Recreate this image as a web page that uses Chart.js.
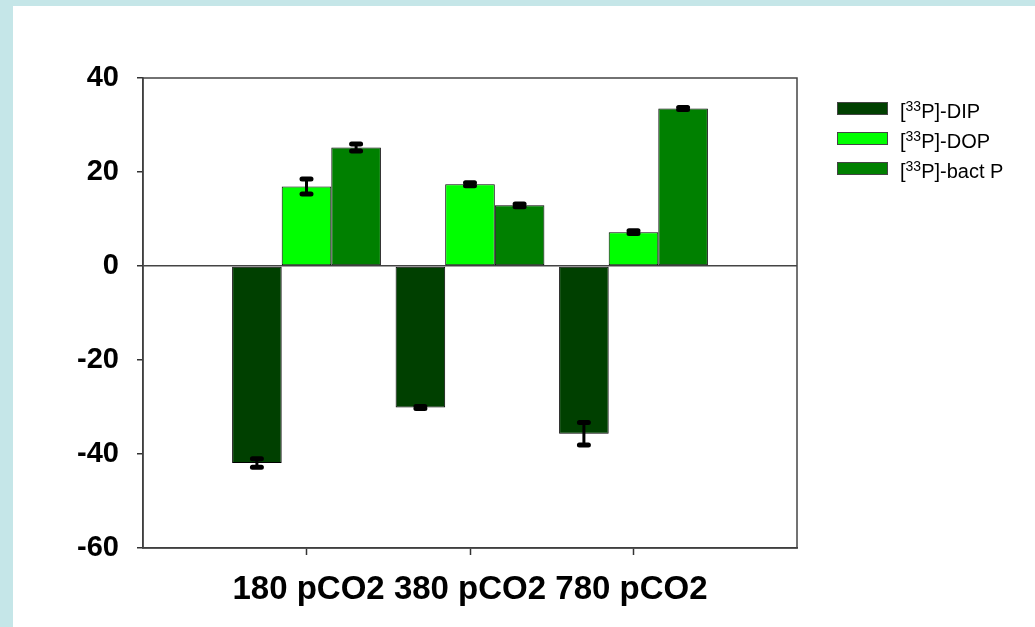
<!DOCTYPE html>
<html lang="en">
<head>
    <meta charset="UTF-8">
    <title>33P partitioning</title>
    <script src="https://cdn.jsdelivr.net/npm/chart.js"></script>
    <style>
        body { margin: 0; background: #c5e6e8; }
        .moldura {
            position: absolute; left: 13px; top: 6px;
            width: 1022px; height: 621px; background: #ffffff;
        }
    </style>
</head>
<body>
    <div class="moldura">
        <canvas id="grafico"></canvas>
    </div>

    <script>
        // categorias (com posicoes vazias nas pontas, como no original)
        const categorias = ['180 pCO2', '380 pCO2', '780 pCO2'];
        const rotulosY = [40, 20, 0, -20, -40, -60];

        // valores
        const dip = [-41.9, -30.1, -35.7];
        const dop = [16.9, 17.4, 7.2];
        const bact = [25.2, 12.9, 33.5];

        // erros (+/-)
        const erroDip = [0.9, 0.2, 2.4];
        const erroDop = [1.6, 0.3, 0.3];
        const erroBact = [0.75, 0.3, 0.2];

        const nomes = ['[³³P]-DIP', '[³³P]-DOP', '[³³P]-bact P'];
        const cores = ['#004000', '#00ff00', '#008000'];

        const fonte = "'Liberation Sans', Arial, sans-serif";
        const comPontas = arr => [null, ...arr, null];

        // barras de erro desenhadas pelas escalas do chart
        const barrasErro = {
            id: 'barrasErro',
            afterDatasetsDraw(chart) {
                const ctx = chart.ctx;
                const y = chart.scales.y;
                chart.data.datasets.forEach((ds, i) => {
                    const meta = chart.getDatasetMeta(i);
                    meta.data.forEach((bar, j) => {
                        const v = ds.data[j];
                        const e = ds.erros[j];
                        if (v == null || e == null) return;
                        const y1 = y.getPixelForValue(v + e);
                        const y2 = y.getPixelForValue(v - e);
                        ctx.save();
                        ctx.strokeStyle = '#000';
                        ctx.lineWidth = 3;
                        ctx.beginPath();
                        ctx.moveTo(bar.x, y1);
                        ctx.lineTo(bar.x, y2);
                        ctx.stroke();
                        ctx.lineWidth = 5;
                        ctx.lineCap = 'round';
                        ctx.beginPath();
                        ctx.moveTo(bar.x - 4.5, y1); ctx.lineTo(bar.x + 4.5, y1);
                        ctx.moveTo(bar.x - 4.5, y2); ctx.lineTo(bar.x + 4.5, y2);
                        ctx.stroke();
                        ctx.restore();
                    });
                });
            }
        };

        // moldura da area do grafico + legenda (com o 33 sobrescrito)
        const moldura = {
            id: 'moldura',
            afterDraw(chart) {
                const ctx = chart.ctx;
                const a = chart.chartArea;
                ctx.save();
                ctx.strokeStyle = '#444';
                ctx.lineWidth = 1.5;
                ctx.strokeRect(a.left, a.top, a.right - a.left, a.bottom - a.top);

                chart.data.datasets.forEach((ds, i) => {
                    const top = 96 + i * 30;
                    ctx.fillStyle = ds.backgroundColor;
                    ctx.fillRect(824, top, 51, 13);
                    ctx.strokeStyle = '#444';
                    ctx.lineWidth = 1;
                    ctx.strokeRect(824.5, top + 0.5, 50, 12);

                    ctx.fillStyle = '#000';
                    ctx.textBaseline = 'alphabetic';
                    ctx.textAlign = 'left';
                    const base = top + 16;
                    const partes = ds.label.split('³³');
                    let x = 887;
                    ctx.font = '20px ' + fonte;
                    ctx.fillText(partes[0], x, base);
                    x += ctx.measureText(partes[0]).width;
                    ctx.font = '14px ' + fonte;
                    ctx.fillText('33', x, base - 7);
                    x += ctx.measureText('33').width;
                    ctx.font = '20px ' + fonte;
                    ctx.fillText(partes[1], x, base);
                });
                ctx.restore();
            }
        };

        const ctxGrafico = document.getElementById('grafico').getContext('2d');

        new Chart(ctxGrafico, {
            type: 'bar',
            data: {
                labels: comPontas(categorias).map(c => c || ''),
                datasets: [
                    { label: nomes[0], data: comPontas(dip), erros: comPontas(erroDip), backgroundColor: cores[0] },
                    { label: nomes[1], data: comPontas(dop), erros: comPontas(erroDop), backgroundColor: cores[1] },
                    { label: nomes[2], data: comPontas(bact), erros: comPontas(erroBact), backgroundColor: cores[2] }
                ].map(d => Object.assign(d, { borderColor: '#000', borderWidth: 1, borderSkipped: false }))
            },
            options: {
                responsive: true,
                maintainAspectRatio: false,
                animation: false,
                categoryPercentage: 0.91,
                barPercentage: 1.0,
                layout: { padding: { left: 0, top: 72, right: 238, bottom: 0 } },
                plugins: {
                    legend: { display: false },
                    tooltip: { enabled: false }
                },
                scales: {
                    x: {
                        offset: false,
                        afterFit: s => { s.height = 79; },
                        grid: {
                            offset: false,
                            drawOnChartArea: false,
                            tickLength: 7,
                            tickWidth: 1.5,
                            tickColor: c => (c.index >= 1 && c.index <= categorias.length) ? '#333' : 'rgba(0,0,0,0)'
                        },
                        border: { color: '#333', width: 1.5 },
                        ticks: { display: false },
                        title: {
                            display: true,
                            text: categorias.join(' '),
                            color: '#000',
                            font: { family: fonte, size: 33, weight: 'bold' },
                            padding: { top: 0, bottom: 17 }
                        }
                    },
                    y: {
                        min: -60,
                        max: 40,
                        afterFit: s => { s.width = 130; },
                        afterBuildTicks: s => { s.ticks = rotulosY.map(v => ({ value: v })); },
                        grid: {
                            color: c => c.tick && c.tick.value === 0 ? '#444' : 'rgba(0,0,0,0)',
                            lineWidth: 1.5,
                            tickLength: 6,
                            tickWidth: 1.5,
                            tickColor: '#333'
                        },
                        border: { color: '#333', width: 1.5 },
                        ticks: {
                            color: '#000',
                            padding: 18,
                            font: { family: fonte, size: 29, weight: 'bold' }
                        }
                    }
                }
            },
            plugins: [barrasErro, moldura]
        });
    </script>
</body>
</html>
